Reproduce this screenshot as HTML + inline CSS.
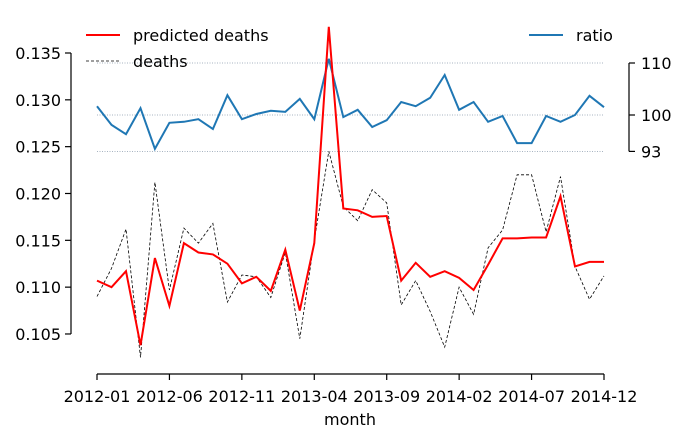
<!DOCTYPE html>
<html><head><meta charset="utf-8"><style>
body{margin:0;background:#fff}
svg text{font-family:"DejaVu Sans","Liberation Sans",sans-serif;font-size:16px;fill:#000}
</style></head><body>
<svg width="684" height="440">
<g id="g"></g>
</svg>
<script>
const xTicks=["2012-01","2012-06","2012-11","2013-04","2013-09","2014-02","2014-07","2014-12"];
const predicted=[0.1107,0.1100,0.1117,0.1038,0.1131,0.1080,0.1147,0.1137,0.1135,0.1125,0.1104,0.1111,0.1096,0.1140,0.1075,0.1147,0.1378,0.1184,0.1182,0.1175,0.1176,0.1107,0.1126,0.1111,0.1117,0.1110,0.1097,0.1124,0.1152,0.1152,0.1153,0.1153,0.1197,0.1122,0.1127,0.1127];
const deaths=[0.1090,0.1120,0.1162,0.1025,0.1212,0.1097,0.1163,0.1147,0.1168,0.1084,0.1113,0.1111,0.1089,0.1137,0.1045,0.1150,0.1245,0.1186,0.1171,0.1204,0.1190,0.1081,0.1107,0.1074,0.1036,0.1100,0.1071,0.1142,0.1161,0.1220,0.1220,0.1159,0.1218,0.1122,0.1087,0.1112];
const ratio=[101.7,98.1,96.3,101.3,93.5,98.5,98.7,99.2,97.3,103.8,99.2,100.2,100.8,100.6,103.1,99.2,110.8,99.6,101.0,97.7,99.0,102.5,101.7,103.3,107.7,101.0,102.5,98.7,99.8,94.6,94.6,99.8,98.7,100,103.7,101.5];
const leftTicks=[0.105,0.110,0.115,0.120,0.125,0.130,0.135];
const rightTicks=[93,100,110];

const NS="http://www.w3.org/2000/svg";
const g=document.getElementById('g');
function el(t,a,txt){const e=document.createElementNS(NS,t);for(const k in a)e.setAttribute(k,a[k]);if(txt!=null)e.textContent=txt;g.appendChild(e);return e;}
const x=i=>97+i*(604-97)/35;
const yL=v=>53+(0.135-v)/0.005*46.83;
const yR=v=>115-(v-100)*5.2;

rightTicks.forEach(t=>{const e=el('line',{x1:97,x2:604,y1:yR(t),y2:yR(t),stroke:'#8a9aac','stroke-width':0.8,'stroke-dasharray':'1,1.5'});

});

let e=el('line',{x1:71,x2:71,y1:yL(0.135),y2:yL(0.105),stroke:'#000','stroke-width':1.2});


leftTicks.forEach(t=>{const y=yL(t);el('line',{x1:65,x2:71,y1:y,y2:y,stroke:'#000','stroke-width':1.2});
const tx=el('text',{x:61,y:y+6,'text-anchor':'end'},t.toFixed(3));

});

e=el('line',{x1:629,x2:629,y1:yR(110),y2:yR(93),stroke:'#000','stroke-width':1.2});


rightTicks.forEach(t=>{const y=yR(t);el('line',{x1:629,x2:635,y1:y,y2:y,stroke:'#000','stroke-width':1.2});
const tx=el('text',{x:641,y:y+6},String(t));

});

e=el('line',{x1:97,x2:604,y1:374,y2:374,stroke:'#000','stroke-width':1.2});


xTicks.forEach((t,k)=>{const xx=x(k*5);el('line',{x1:xx,x2:xx,y1:374,y2:380,stroke:'#000','stroke-width':1.2});
const tx=el('text',{x:xx,y:402,'text-anchor':'middle'},t);

});
e=el('text',{x:350,y:425,'text-anchor':'middle'},'month');



function path(arr,f){return arr.map((v,i)=>(i?'L':'M')+x(i).toFixed(1)+','+f(v).toFixed(1)).join('');}
e=el('path',{d:path(ratio,yR),fill:'none',stroke:'#1f77b4','stroke-width':2});


e=el('path',{d:path(deaths,yL),fill:'none',stroke:'#000','stroke-width':0.8,'stroke-dasharray':'3,2'});


e=el('path',{d:path(predicted,yL),fill:'none',stroke:'#ff0000','stroke-width':2});



e=el('line',{x1:86,x2:120,y1:35,y2:35,stroke:'#ff0000','stroke-width':2});


e=el('text',{x:133,y:41},'predicted deaths');


e=el('line',{x1:86,x2:120,y1:61,y2:61,stroke:'#000','stroke-width':0.8,'stroke-dasharray':'3,2'});


e=el('text',{x:133,y:67},'deaths');


e=el('line',{x1:529,x2:563,y1:35,y2:35,stroke:'#1f77b4','stroke-width':2});


e=el('text',{x:576,y:41},'ratio');


</script>
</body></html>
